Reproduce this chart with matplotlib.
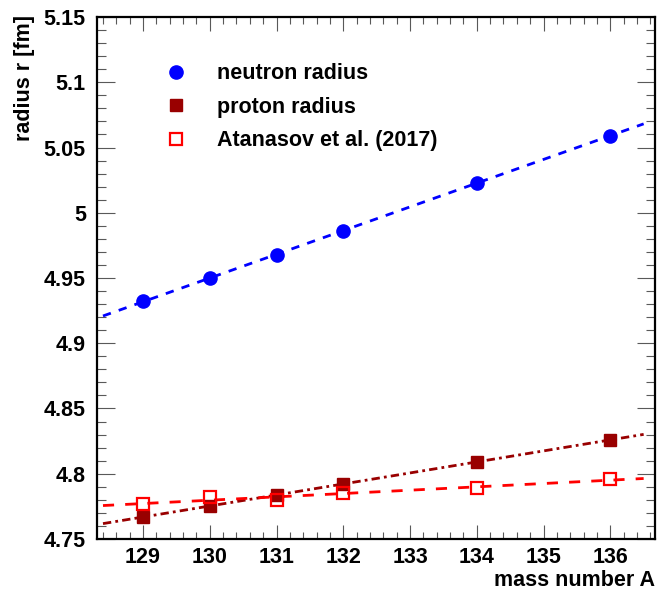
import numpy as np
import matplotlib.pyplot as plt
from matplotlib.ticker import MultipleLocator, FuncFormatter

plt.rcParams['font.family'] = ['Liberation Sans', 'DejaVu Sans']
plt.rcParams['font.weight'] = 'bold'

# data
mass = [129, 130, 131, 132, 134, 136]
neutron_r = [4.932, 4.950, 4.968, 4.986, 5.023, 5.059]
proton_r = [4.767, 4.775, 4.784, 4.792, 4.809, 4.826]
atanasov_r = [4.777, 4.782, 4.780, 4.785, 4.789, 4.796]

fig = plt.figure(figsize=(6.67, 5.93), dpi=100)
ax = fig.add_axes([0.1454, 0.0911, 0.8366, 0.8802])

# linear fits drawn as broken lines
xfit = np.linspace(128.4, 136.5, 50)
for y, col, ls in [(neutron_r, '#0000ff', (0, (3, 3))),
                   (proton_r, '#990000', (0, (3, 1.5, 1, 1.5))),
                   (atanasov_r, '#ff0000', (0, (4, 4)))]:
    p = np.polyfit(mass, y, 1)
    ax.plot(xfit, np.polyval(p, xfit), color=col, ls=ls, lw=2)

ax.plot(mass, neutron_r, 'o', color='#0000ff', ms=9.5, label='neutron radius')
ax.plot(mass, proton_r, 's', color='#990000', ms=8, label='proton radius')
ax.plot(mass, atanasov_r, 's', mfc='none', mec='#ff0000', mew=1.6, ms=8,
        label='Atanasov et al. (2017)')

ax.set_xlim(128.31, 136.67)
ax.set_ylim(4.75, 5.15)
ax.xaxis.set_major_locator(MultipleLocator(1))
ax.xaxis.set_minor_locator(MultipleLocator(0.2))
ax.yaxis.set_major_locator(MultipleLocator(0.05))
ax.yaxis.set_minor_locator(MultipleLocator(0.01))
ax.yaxis.set_major_formatter(FuncFormatter(lambda v, pos: '%g' % round(v, 3)))

ax.tick_params(which='both', direction='in', top=True, right=True,
               labelsize=15.5, color='0.35', width=0.8)
ax.tick_params(axis='y', which='major', length=13, pad=8)
ax.tick_params(axis='y', which='minor', length=6.5)
ax.tick_params(axis='x', which='major', length=10, pad=6)
ax.tick_params(axis='x', which='minor', length=5)
for s in ax.spines.values():
    s.set_linewidth(1.6)

fig.text(0.982, 0.003, 'mass number A', ha='right', va='bottom',
         fontsize=15.5, fontweight='bold')
fig.text(0.037, 0.974, 'radius r [fm]', ha='center', va='top', rotation=90,
         fontsize=15.5, fontweight='bold')

ax.legend(loc='upper left', bbox_to_anchor=(0.106, 0.928), frameon=False,
          fontsize=15.5, handlelength=1.0, handletextpad=1.45,
          labelspacing=0.58, borderaxespad=0)

fig.savefig('out.png', dpi=100)
